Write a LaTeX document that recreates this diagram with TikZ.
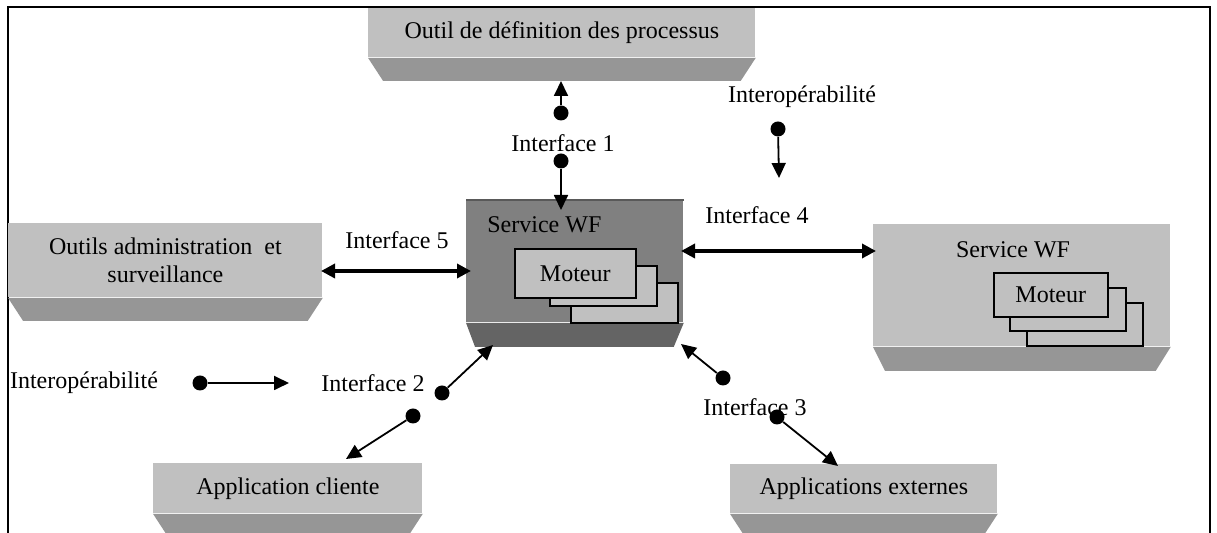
\documentclass[tikz,border=0pt]{standalone}
\usepackage{fontspec}
\setmainfont{Liberation Serif}
\usetikzlibrary{arrows.meta,calc}

\definecolor{facegray}{HTML}{C0C0C0}
\definecolor{basegray}{HTML}{969696}
\definecolor{coregray}{HTML}{808080}
\definecolor{corebase}{HTML}{646464}

% bevelled base under a face: node, left inset, right inset, depth, colour
\newcommand{\boxbase}[5]{%
  \fill[#5] (#1.south west) -- (#1.south east) -- ($(#1.south east)+(-#3,#4)$)
    -- ($(#1.south west)+(#2,#4)$) -- cycle;}

\begin{document}
\begin{tikzpicture}[x=0.5pt,y=-0.5pt,
  font=\fontsize{12}{13.8}\selectfont,
  face/.style={fill=facegray, inner sep=0pt, anchor=north west, align=center},
  core/.style={fill=coregray, inner sep=0pt, anchor=north west},
  motor/.style={draw=black, line width=0.8pt, fill=facegray, inner sep=0pt, anchor=north west},
  dot/.style={circle, fill=black, inner sep=0pt, minimum size=7.5pt},
  lbl/.style={inner sep=0pt},
  arr/.style={line width=0.9pt, -{Triangle[length=7.5pt,width=7pt]}},
  dbl/.style={line width=1.7pt, {Triangle[length=7pt,width=7pt]}-{Triangle[length=7pt,width=7pt]}}]

\useasboundingbox (0,0) rectangle (1217,533);
\clip (0,0) rectangle (1217,533);
\fill[white] (0,0) rectangle (1217,533);

% open frame
\draw[line width=1pt] (8,533) -- (8,7) -- (1210,7) -- (1210,533);

% process definition tool
\node[face, minimum width=193.5pt, minimum height=24.5pt] (def) at (368,8)
  {Outil de définition des processus};
\boxbase{def}{15}{15}{23}{basegray}

% administration and monitoring tools
\node[face, minimum width=157pt, minimum height=37pt] (adm) at (8,223)
  {Outils administration\ \ et\\surveillance};
\boxbase{adm}{15}{15}{23}{basegray}

% central workflow service
\node[core, minimum width=108.5pt, minimum height=61pt] (wf) at (466,200) {};
\boxbase{wf}{9}{10}{24}{corebase}
\draw[black!65, line width=1pt] (wf.north west) -- (wf.north east);
\node[lbl, anchor=west] (wft) at (487,225) {Service WF};
\node[motor, minimum width=53.5pt, minimum height=20pt] (m3) at (570,282) {};
\node[motor, minimum width=53.5pt, minimum height=20pt] (m2) at (549,265) {};
\node[motor, minimum width=60.5pt, minimum height=24.5pt] (m1) at (514,248) {Moteur};

% remote workflow service
\node[face, minimum width=148.5pt, minimum height=61pt] (wf2) at (873,224) {};
\boxbase{wf2}{12}{15}{24}{basegray}
\node[lbl] (wf2t) at (1013,250) {Service WF};
\node[motor, minimum width=58pt, minimum height=21.5pt] (n3) at (1026,302) {};
\node[motor, minimum width=58pt, minimum height=21.5pt] (n2) at (1009,287) {};
\node[motor, minimum width=57pt, minimum height=22pt] (n1) at (993,272) {Moteur};

% client application
\node[face, minimum width=134.5pt, minimum height=25pt] (cli) at (153,463)
  {Application cliente};
\boxbase{cli}{15}{15}{23}{basegray}

% external applications
\node[face, minimum width=133.5pt, minimum height=24.5pt] (ext) at (730,464)
  {Applications externes};
\boxbase{ext}{15}{15}{23}{basegray}

% labels
\node[lbl] (i1) at (563,143) {Interface 1};
\node[lbl] (io1) at (802,97) {Interopérabilité};
\node[lbl] (i4) at (757,215) {Interface 4};
\node[lbl] (i5) at (397,240) {Interface 5};
\node[lbl] (io2) at (84,383) {Interopérabilité};
\node[lbl] (i2) at (373,383) {Interface 2};
\node[lbl] (i3) at (755,407) {Interface 3};

% dots
\node[dot] (d1a) at (561,113) {};
\node[dot] (d1b) at (561,161) {};
\node[dot] (dio1) at (778,129) {};
\node[dot] (dio2) at (200,383) {};
\node[dot] (d2a) at (442,393) {};
\node[dot] (d2b) at (413,416) {};
\node[dot] (d3a) at (723,378) {};
\node[dot] (d3b) at (777,417) {};

% arrow ends
\coordinate (t1a) at (561,81);
\coordinate (t1b) at (561,210);
\coordinate (tio1) at (779,178);
\coordinate (tio2) at (289,383);
\coordinate (t2a) at (493,345);
\coordinate (t2b) at (346,459);
\coordinate (t3a) at (681,344);
\coordinate (t3b) at (838,466);
\coordinate (i4l) at (681,251);
\coordinate (i4r) at (876,251);
\coordinate (i5l) at (321,271);
\coordinate (i5r) at (471,271);

% connectors
\draw[arr] (d1a) -- (t1a);
\draw[arr] (d1b) -- (t1b);
\draw[arr] (dio1) -- (tio1);
\draw[arr] (dio2) -- (tio2);
\draw[arr] (d2a) -- (t2a);
\draw[arr] (d2b) -- (t2b);
\draw[arr] (d3a) -- (t3a);
\draw[arr] (d3b) -- (t3b);
\draw[dbl] (i4l) -- (i4r);
\draw[dbl] (i5l) -- (i5r);
\end{tikzpicture}
\end{document}
